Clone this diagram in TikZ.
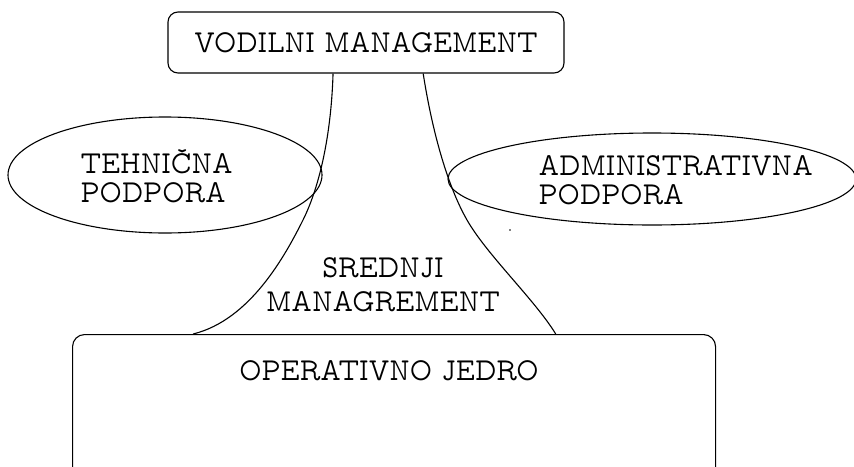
\documentclass[tikz,border=0pt]{standalone}
\usepackage{fontspec}
\usetikzlibrary{shapes.geometric,calc}
\newfontfamily\lblfont[FakeStretch=0.85]{lmmonoprop10-regular.otf}
\begin{document}
\begin{tikzpicture}[x=1pt,y=-1pt,
  line width=1.1pt,
  lbl/.style={font=\lblfont\fontsize{32}{29}\selectfont, inner sep=0pt},
  box/.style={draw, rectangle, inner sep=0pt},
  oval/.style={draw, ellipse, inner sep=0pt},
  link/.style={draw, line width=1.1pt}]
  \useasboundingbox (0,0) rectangle (854,466);
  \clip (0,0) rectangle (854,466);

  % strategic apex
  \node[box, rounded corners=10pt, minimum width=396pt, minimum height=61pt, lbl]
    (vod) at (366,42.5) {VODILNI MANAGEMENT};

  % operating core (runs off the lower edge)
  \node[box, rounded corners=12pt, minimum width=643pt, minimum height=145pt,
    anchor=north west] (opb) at (72,334) {};
  \node[lbl, anchor=base] (opt) at (389,380) {OPERATIVNO JEDRO};

  % support staff ovals
  \node[oval, minimum width=314pt, minimum height=116pt] (teh) at (165,175) {};
  \node[lbl, align=left, anchor=west] (tehtxt) at (80,176) {TEHNIČNA\\PODPORA};

  \node[oval, minimum width=408pt, minimum height=92pt] (adm) at (652,179) {};
  \node[lbl, align=left, anchor=west] (admtxt) at (538,180) {ADMINISTRATIVNA\\PODPORA};

  % middle line
  \node[lbl, align=center] (sre) at (383,285) {SREDNJI\\[5pt]MANAGREMENT};

  % flanks of the middle line
  \coordinate (lt) at ($(vod.south west)!0.417!(vod.south east)$);
  \coordinate (rt) at ($(vod.south west)!0.644!(vod.south east)$);
  \coordinate (lb) at ($(opb.north west)!0.188!(opb.north east)$);
  \coordinate (rb) at ($(opb.north west)!0.751!(opb.north east)$);
  \coordinate (lm) at (303,220);
  \coordinate (rm) at (467,220);

  \draw[link] (lt) .. controls (331,140) and (318,190) .. (lm)
                   .. controls (285,256) and (250,320) .. (lb);
  \draw[link] (rt) .. controls (432,130) and (447,185) .. (rm)
                   .. controls (487,255) and (535,300) .. (rb);

  \fill (510,230) circle (0.8pt);
\end{tikzpicture}
\end{document}
